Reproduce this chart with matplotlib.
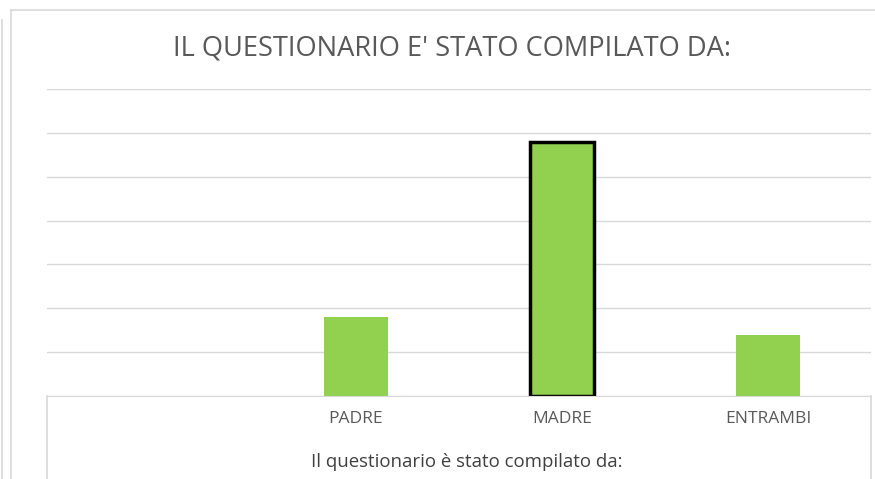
import matplotlib.pyplot as plt
from matplotlib.lines import Line2D

categories = ['', 'PADRE', 'MADRE', 'ENTRAMBI']
values = [0, 9, 29, 7]
edge = ['none', 'none', 'black', 'none']

W, H = 875, 479
fig = plt.figure(figsize=(W / 100, H / 100), dpi=100)
ax = fig.add_axes([47 / W, (H - 396) / H, (871 - 47) / W, (396 - 89) / H])

x = range(len(categories))
ax.bar(x, values, width=0.31, color='#92D050', edgecolor=edge, linewidth=2.5, zorder=3)
ax.set_xlim(-0.5, len(categories) - 0.5)
ax.set_ylim(0, 35)
ax.set_yticks(range(0, 36, 5))
ax.set_yticklabels([])
ax.tick_params(axis='y', length=0)
ax.set_xticks(list(x))
ax.set_xticklabels(categories, fontsize=12.5, color='#595959', family='Open Sans')
ax.tick_params(axis='x', length=0, pad=11)
ax.grid(axis='y', color='#d9d9d9', linewidth=1, zorder=0)
for s in ['top', 'left', 'right']:
    ax.spines[s].set_visible(False)
ax.spines['bottom'].set_color('#d9d9d9')
ax.spines['bottom'].set_zorder(4)

fig.text(452 / W, 1 - 49 / H, "IL QUESTIONARIO E' STATO COMPILATO DA:", ha='center', va='center',
         fontsize=19.6, color='#595959', family='Open Sans')
fig.text(467 / W, 1 - 462 / H, 'Il questionario è stato compilato da:', ha='center', va='center',
         fontsize=13.4, color='#404040', family='Open Sans')

# frame lines of the chart box and table area
def fline(x0, y0, x1, y1):
    fig.add_artist(Line2D([x0 / W, x1 / W], [1 - y0 / H, 1 - y1 / H], color='#d9d9d9', linewidth=1.2))

fline(11, 10, 875, 10)
fline(11, 10, 11, 479)
fline(2, 20, 2, 479)
fline(47, 396, 47, 479)
fline(871, 396, 871, 479)

fig.savefig('out.png', dpi=100)
